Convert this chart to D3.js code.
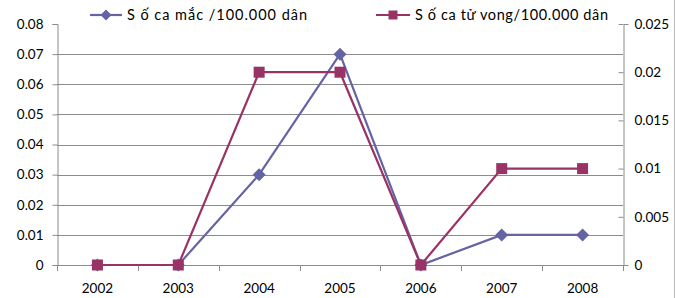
<!DOCTYPE html>
<html><head><meta charset="utf-8">
<script src="https://cdn.jsdelivr.net/npm/d3@7"></script>
<style>body{margin:0;background:#fff}svg{display:block}text{font-family:Lato,"Open Sans",sans-serif;fill:#000}</style>
</head><body><svg id="c" width="675" height="298"></svg>
<script>
const years = ["2002","2003","2004","2005","2006","2007","2008"];
const casesValues = [0, 0, 0.03, 0.07, 0, 0.01, 0.01];
const deathValues = [0, 0, 0.02, 0.02, 0, 0.01, 0.01];
const leftTicks = [0, 0.01, 0.02, 0.03, 0.04, 0.05, 0.06, 0.07, 0.08];
const rightTicks = [0, 0.005, 0.01, 0.015, 0.02, 0.025];
const seriesNames = ["S ố ca mắc /100.000 dân", "S ố ca tử vong/100.000 dân"];
const colors = ["#6464a4", "#993366"];

const svg = d3.select("#c");
const L = 57, R = 623, T = 24, B = 265;
const x = d3.scaleBand().domain(years).range([L, R]);
const yL = d3.scaleLinear().domain([0, 0.08]).range([B, T]);
const yR = d3.scaleLinear().domain([0, 0.025]).range([B, T]);
const grid = "#8c8c8c";
const fs = "13.5px";

// gridlines
svg.append("g").selectAll("line").data(leftTicks.filter(d => d > 0 && d < 0.08)).join("line")
  .attr("x1", L).attr("x2", R).attr("y1", d => Math.round(yL(d)) + 0.5).attr("y2", d => Math.round(yL(d)) + 0.5)
  .attr("stroke", grid).attr("stroke-width", 1);

// left axis
const gl = svg.append("g").attr("transform", `translate(${L + 0.5},0)`)
  .call(d3.axisLeft(yL).tickValues(leftTicks).tickFormat(d => d === 0 ? "0" : d3.format(".2f")(d)).tickSize(5).tickPadding(9));
gl.select(".domain").attr("stroke", grid);
gl.selectAll(".tick line").attr("stroke", grid);
gl.selectAll("text").style("font-size", fs).attr("fill", "#000");

// right axis
const gr = svg.append("g").attr("transform", `translate(${R + 0.5},0)`)
  .call(d3.axisRight(yR).tickValues(rightTicks).tickFormat(d => d === 0 ? "0" : String(+d.toFixed(3))).tickSize(5).tickPadding(6));
gr.selectAll(".tick line").attr("x1", -5).attr("x2", 0);
gr.select(".domain").attr("stroke", grid);
gr.selectAll(".tick line").attr("stroke", grid);
gr.selectAll("text").style("font-size", fs).attr("fill", "#000");

// x axis
svg.append("line").attr("x1", L).attr("x2", R).attr("y1", B + 0.5).attr("y2", B + 0.5).attr("stroke", grid);
const bounds = years.map(d => x(d)).concat([R]);
svg.append("g").selectAll("line").data(bounds).join("line")
  .attr("x1", d => Math.round(d) + 0.5).attr("x2", d => Math.round(d) + 0.5)
  .attr("y1", B).attr("y2", B + 6).attr("stroke", grid);
svg.append("g").selectAll("text").data(years).join("text")
  .attr("x", d => x(d) + x.bandwidth() / 2).attr("y", 293).attr("text-anchor", "middle")
  .style("font-size", fs).text(d => d);

// chart right border
svg.append("line").attr("x1", 674.5).attr("x2", 674.5).attr("y1", 0).attr("y2", 298).attr("stroke", "#bbb");

const cx = d => x(d) + x.bandwidth() / 2;
const diamondPath = r => `M0,${-r}L${r},0L0,${r}L${-r},0Z`;
const squarePath = r => `M${-r},${-r}H${r}V${r}H${-r}Z`;

// series 1
svg.append("path").datum(casesValues)
  .attr("d", d3.line().x((d, i) => cx(years[i])).y(d => yL(d)))
  .attr("fill", "none").attr("stroke", colors[0]).attr("stroke-width", 2.2);
svg.append("g").selectAll("path").data(casesValues).join("path")
  .attr("transform", (d, i) => `translate(${cx(years[i])},${yL(d)})`)
  .attr("d", diamondPath(6.5)).attr("fill", colors[0]);

// series 2
svg.append("path").datum(deathValues)
  .attr("d", d3.line().x((d, i) => cx(years[i])).y(d => yR(d)))
  .attr("fill", "none").attr("stroke", colors[1]).attr("stroke-width", 2.2);
svg.append("g").selectAll("path").data(deathValues).join("path")
  .attr("transform", (d, i) => `translate(${cx(years[i])},${yR(d)})`)
  .attr("d", squarePath(5.5)).attr("fill", colors[1]);

// legend
const legend = [
  {x1: 90, x2: 122, tx: 127, w: 180},
  {x1: 376, x2: 410, tx: 415, w: 193}
];
legend.forEach((l, i) => {
  const g = svg.append("g");
  g.append("line").attr("x1", l.x1).attr("x2", l.x2).attr("y1", 15).attr("y2", 15)
    .attr("stroke", colors[i]).attr("stroke-width", 2.2);
  g.append("path").attr("transform", `translate(${(l.x1 + l.x2) / 2},15)`)
    .attr("d", i === 0 ? diamondPath(5.5) : squarePath(4.5))
    .attr("fill", colors[i]);
  g.append("text").attr("x", l.tx).attr("y", 20).style("font-size", "14.5px")
    .attr("textLength", l.w).attr("lengthAdjust", "spacing").text(seriesNames[i]);
});
</script></body></html>
